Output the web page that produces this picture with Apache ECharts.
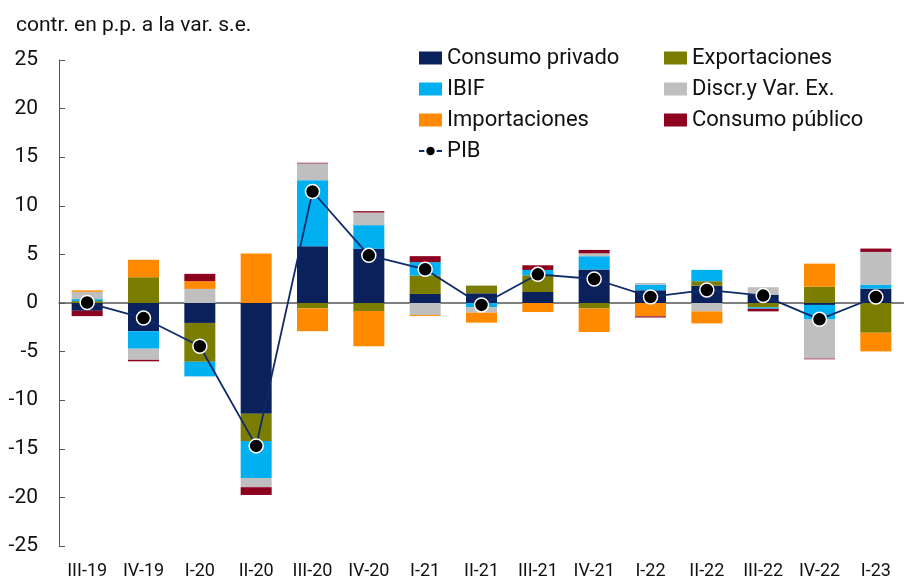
<!DOCTYPE html>
<html>
<head>
<meta charset="utf-8">
<script src="https://cdn.jsdelivr.net/npm/echarts@6/dist/echarts.min.js"></script>
<style>
  html, body { margin: 0; padding: 0; background: #fff; }
  #chart { width: 904px; height: 583px; }
</style>
</head>
<body>
<div id="chart"></div>
<script>
const categories = ['III-19', 'IV-19', 'I-20', 'II-20', 'III-20', 'IV-20', 'I-21', 'II-21', 'III-21', 'IV-21', 'I-22', 'II-22', 'III-22', 'IV-22', 'I-23']

const consumoPrivado = [-0.8, -2.9, -2.05, -11.4, 5.84, 5.57, 0.93, 1.0, 1.13, 3.45, 1.31, 1.79, 0.86, -0.2, 1.48]
const exportaciones = [0.2, 2.65, -4.0, -2.8, -0.55, -0.82, 1.9, 0.79, 1.72, -0.57, 0, 0.45, -0.45, 1.68, -3.06]
const ibif = [0.2, -1.8, -1.5, -3.8, 6.8, 2.44, 1.37, -0.41, 0.55, 1.36, 0.58, 1.17, -0.14, -1.5, 0.41]
const discr = [0.75, -1.15, 1.45, -0.95, 1.72, 1.3, -1.24, -0.58, 0, 0.3, 0.17, -0.86, 0.76, -4.02, 3.37]
const importaciones = [0.15, 1.8, 0.8, 5.1, -2.35, -3.64, -0.1, -1.03, -0.93, -2.42, -1.37, -1.24, 0, 2.37, -1.92]
const consumoPublico = [-0.55, -0.15, 0.75, -0.8, 0.07, 0.14, 0.62, 0, 0.48, 0.35, -0.12, 0, -0.27, -0.07, 0.34]
const pib = [0.05, -1.55, -4.45, -14.7, 11.47, 4.9, 3.47, -0.2, 2.95, 2.47, 0.62, 1.34, 0.76, -1.68, 0.62]

const yTicks = { min: -25, max: 25, step: 5 }

const barSeries = [
  { name: 'Consumo privado', data: consumoPrivado, color: '#0b215c' },
  { name: 'Exportaciones', data: exportaciones, color: '#7a7d00' },
  { name: 'IBIF', data: ibif, color: '#00b0f0' },
  { name: 'Discr.y Var. Ex.', data: discr, color: '#bfbfbf' },
  { name: 'Importaciones', data: importaciones, color: '#ff8a00' },
  { name: 'Consumo público', data: consumoPublico, color: '#8c0020' }
]

const FONT = 'Roboto, "Noto Sans", sans-serif'

const chart = echarts.init(document.getElementById('chart'), null, { renderer: 'canvas' })

const legendText = { fontFamily: FONT, fontSize: 22, color: '#111' }

chart.setOption({
  animation: false,
  backgroundColor: '#fff',
  title: {
    text: 'contr. en p.p. a la var. s.e.',
    left: 11,
    top: 10,
    textStyle: { fontFamily: FONT, fontSize: 21, fontWeight: 'normal', color: '#111' }
  },
  legend: [
    {
      orient: 'vertical',
      left: 413,
      top: 42,
      itemWidth: 23,
      itemHeight: 13,
      itemGap: 9,
      textStyle: legendText,
      data: [
        { name: 'Consumo privado', icon: 'rect' },
        { name: 'IBIF', icon: 'rect' },
        { name: 'Importaciones', icon: 'rect' },
        { name: 'PIB' }
      ]
    },
    {
      orient: 'vertical',
      left: 659,
      top: 42,
      itemWidth: 23,
      itemHeight: 13,
      itemGap: 9,
      textStyle: legendText,
      data: [
        { name: 'Exportaciones', icon: 'rect' },
        { name: 'Discr.y Var. Ex.', icon: 'rect' },
        { name: 'Consumo público', icon: 'rect' }
      ]
    }
  ],
  grid: { left: 59, top: 60, width: 854, height: 486 },
  xAxis: [
    {
      type: 'category',
      data: categories,
      axisLine: { onZero: true, lineStyle: { color: '#555', width: 1.5 } },
      axisTick: { inside: true, length: 6, lineStyle: { color: '#555' } },
      axisLabel: { show: false },
      splitLine: { show: false }
    },
    {
      type: 'category',
      data: categories,
      position: 'bottom',
      axisLine: { show: false, onZero: false },
      axisTick: { show: false },
      axisLabel: { interval: 0, margin: 16, fontFamily: FONT, fontSize: 18, color: '#111' },
      splitLine: { show: false }
    }
  ],
  yAxis: {
    type: 'value',
    min: yTicks.min,
    max: yTicks.max,
    interval: yTicks.step,
    axisLine: { show: true, lineStyle: { color: '#555', width: 1 } },
    axisTick: { show: true, inside: true, length: 6, lineStyle: { color: '#555' } },
    axisLabel: { margin: 21, fontFamily: FONT, fontSize: 21, color: '#111' },
    splitLine: { show: false }
  },
  series: [
    ...barSeries.map(s => ({
      name: s.name,
      type: 'bar',
      stack: 'total',
      barWidth: 31,
      data: s.data,
      itemStyle: { color: s.color },
      emphasis: { disabled: true }
    })),
    {
      name: 'PIB',
      type: 'line',
      data: pib,
      z: 10,
      symbol: 'circle',
      symbolSize: 14,
      lineStyle: { color: '#0f2a6b', width: 1.8 },
      itemStyle: { color: '#000', borderColor: '#fff', borderWidth: 1.5 },
      emphasis: { disabled: true }
    }
  ]
})
</script>
</body>
</html>
